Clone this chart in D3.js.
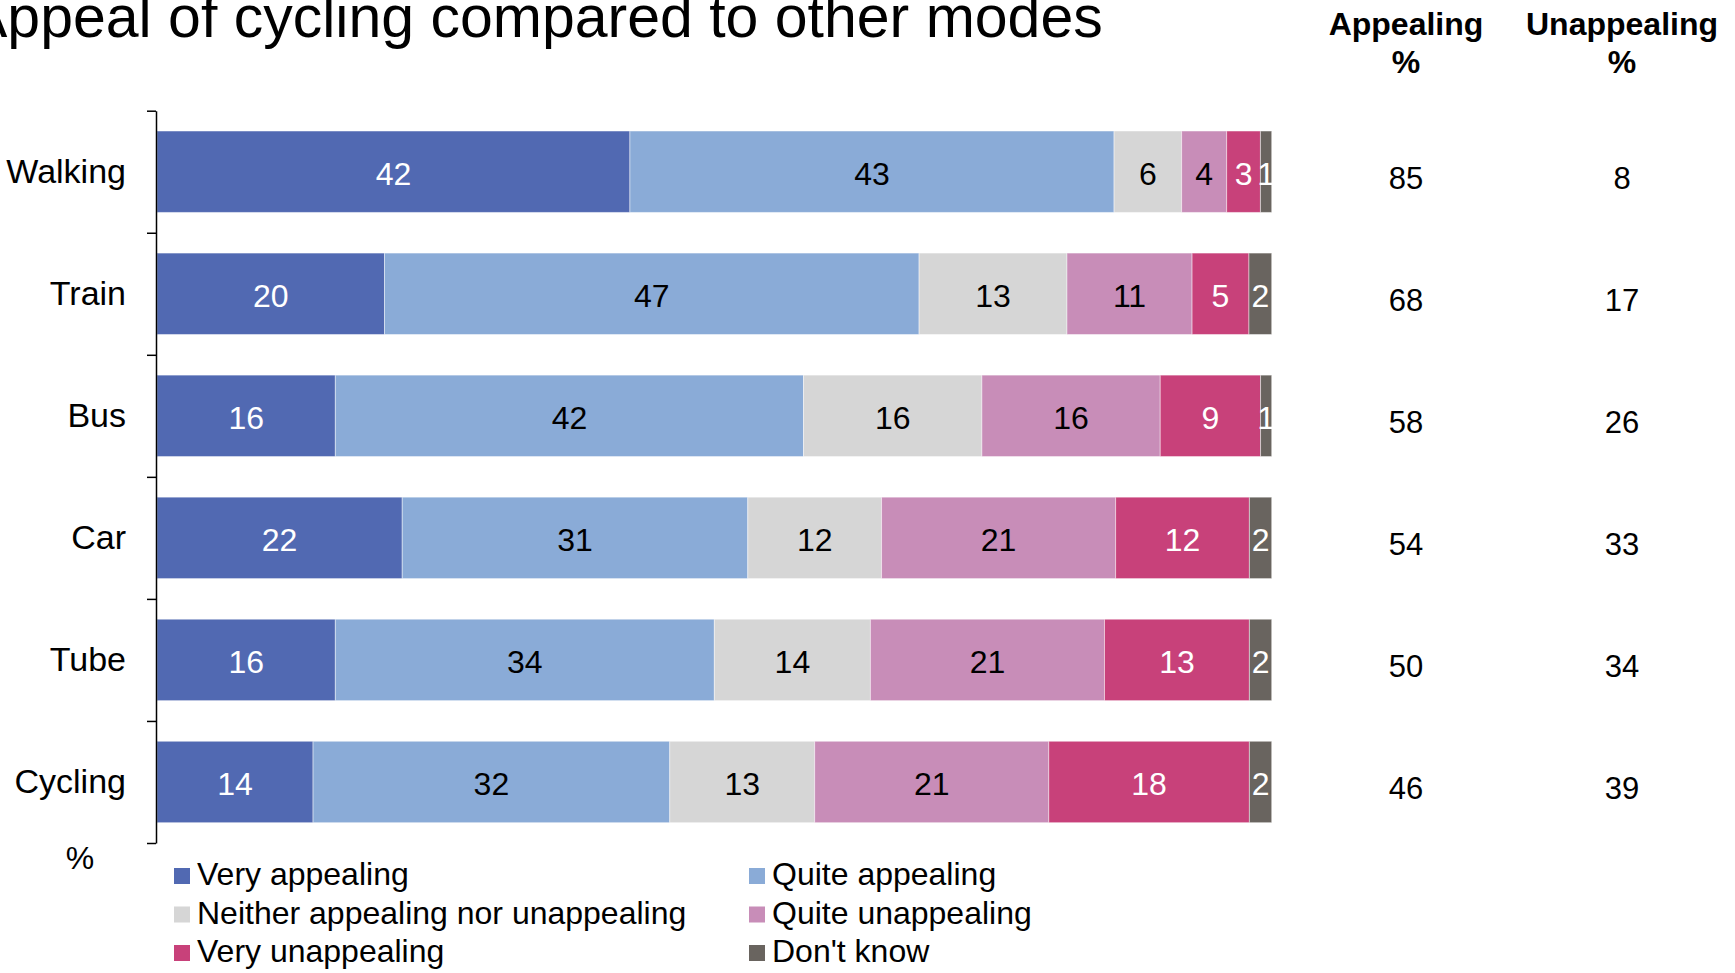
<!DOCTYPE html>
<html>
<head>
<meta charset="utf-8">
<script src="https://cdn.jsdelivr.net/npm/d3@7/dist/d3.min.js"></script>
<style>
  html, body { margin: 0; padding: 0; background: #fff; overflow: hidden; }
  text { font-family: "Liberation Sans", Arial, sans-serif; }
</style>
</head>
<body>
<svg id="chart" width="1735" height="973"></svg>
<script>
// ---- Data ----
const categories = ["Walking", "Train", "Bus", "Car", "Tube", "Cycling"];
const seriesNames = ["Very appealing", "Quite appealing", "Neither appealing nor unappealing",
                     "Quite unappealing", "Very unappealing", "Don't know"];
const veryAppealing    = [42, 20, 16, 22, 16, 14];
const quiteAppealing   = [43, 47, 42, 31, 34, 32];
const neither          = [6, 13, 16, 12, 14, 13];
const quiteUnappealing = [4, 11, 16, 21, 21, 21];
const veryUnappealing  = [3, 5, 9, 12, 13, 18];
const dontKnow         = [1, 2, 1, 2, 2, 2];
const appealingTotal   = [85, 68, 58, 54, 50, 46];
const unappealingTotal = [8, 17, 26, 33, 34, 39];

const seriesValues = [veryAppealing, quiteAppealing, neither, quiteUnappealing, veryUnappealing, dontKnow];
const colors = ["#5169B2", "#8AABD7", "#D6D6D6", "#C88DB8", "#C8417A", "#69645F"];
const labelColors = ["#ffffff", "#000000", "#000000", "#000000", "#ffffff", "#ffffff"];

// ---- Layout ----
const svg = d3.select("#chart");
const x0 = 157, x1 = 1271.7, yTop = 110.7, yBot = 843;

const x = d3.scaleLinear().domain([0, 100]).range([x0, x1]);
const y = d3.scaleBand().domain(categories).range([yTop, yBot])
  .paddingInner(0.333).paddingOuter(0.1665);
const yLin = d3.scaleLinear().domain([0, categories.length]).range([yTop, yBot]);

// Title
svg.append("text")
  .attr("x", -32).attr("y", 37)
  .attr("font-size", 59)
  .attr("fill", "#000")
  .text("Appeal of cycling compared to other modes");

// Build stacked rows (normalised to 100%)
const rows = categories.map((c, i) => {
  const vals = seriesValues.map(s => s[i]);
  const sum = d3.sum(vals);
  let cum = 0;
  return vals.map((v, k) => {
    const seg = { cat: c, k, v, start: cum / sum * 100, end: (cum + v) / sum * 100 };
    cum += v;
    return seg;
  });
});
const segs = rows.flat();

const g = svg.append("g");
g.selectAll("rect.seg").data(segs).enter().append("rect")
  .attr("class", "seg")
  .attr("x", d => x(d.start))
  .attr("y", d => y(d.cat))
  .attr("width", d => x(d.end) - x(d.start))
  .attr("height", y.bandwidth())
  .attr("fill", d => colors[d.k])
  .attr("stroke", "rgba(255,255,255,0.45)")
  .attr("stroke-width", 1);

g.selectAll("text.val").data(segs).enter().append("text")
  .attr("class", "val")
  .attr("x", d => (x(d.start) + x(d.end)) / 2)
  .attr("y", d => y(d.cat) + y.bandwidth() / 2 + 2)
  .attr("dy", "0.35em")
  .attr("text-anchor", "middle")
  .attr("font-size", 32)
  .attr("fill", d => labelColors[d.k])
  .text(d => d.v);

// Axis line with ticks at band boundaries
const axisTicks = svg.append("g")
  .attr("transform", `translate(${x0 - 1},0)`)
  .call(d3.axisLeft(yLin).tickValues(d3.range(0, categories.length + 1))
    .tickSize(9).tickSizeOuter(0).tickFormat(""));
axisTicks.selectAll("path, line").attr("stroke", "#000").attr("stroke-width", 1.5);

// Category labels via band axis
const catAxis = svg.append("g")
  .attr("transform", `translate(${x0 - 1},0)`)
  .call(d3.axisLeft(y).tickSize(0).tickPadding(30));
catAxis.select(".domain").remove();
catAxis.selectAll("text")
  .attr("font-size", 34)
  .attr("font-family", "'Liberation Sans', Arial, sans-serif")
  .attr("fill", "#000");

// "%" unit label
svg.append("text")
  .attr("x", 80).attr("y", 869)
  .attr("text-anchor", "middle")
  .attr("font-size", 32)
  .text("%");

// Right-hand columns
const colX = [1406, 1622];
const colHeads = ["Appealing", "Unappealing"];
const colVals = [appealingTotal, unappealingTotal];
colHeads.forEach((h, j) => {
  svg.append("text").attr("x", colX[j]).attr("y", 35)
    .attr("text-anchor", "middle").attr("font-size", 32).attr("font-weight", "bold")
    .text(h);
  svg.append("text").attr("x", colX[j]).attr("y", 73)
    .attr("text-anchor", "middle").attr("font-size", 32).attr("font-weight", "bold")
    .text("%");
  svg.selectAll(null).data(categories).enter().append("text")
    .attr("x", colX[j])
    .attr("y", (c, i) => y(c) + y.bandwidth() / 2 + 6)
    .attr("dy", "0.35em")
    .attr("text-anchor", "middle")
    .attr("font-size", 31)
    .text((c, i) => colVals[j][i]);
});

// Legend (two columns, row-major)
const legX = [174, 749];
const legY = [868, 906.5, 945];
const leg = svg.append("g");
seriesNames.forEach((name, k) => {
  const col = k % 2, row = Math.floor(k / 2);
  leg.append("rect")
    .attr("x", legX[col]).attr("y", legY[row])
    .attr("width", 16).attr("height", 16)
    .attr("fill", colors[k]);
  leg.append("text")
    .attr("x", legX[col] + 23).attr("y", legY[row] + 17)
    .attr("font-size", 32)
    .text(name);
});
</script>
</body>
</html>
